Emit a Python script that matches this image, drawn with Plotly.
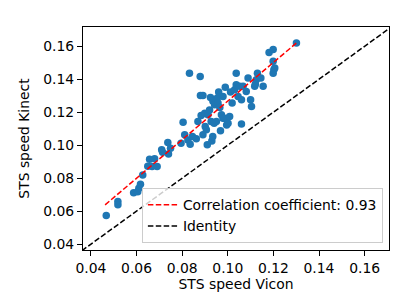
import plotly.graph_objects as go

vicon = [0.0467, 0.0518, 0.0518, 0.0587, 0.0605, 0.0610, 0.0617, 0.0627,
         0.0657, 0.0679, 0.0649, 0.0668, 0.0690, 0.0710, 0.0714, 0.0737,
         0.0740, 0.0749, 0.0795, 0.0804, 0.0832, 0.0879, 0.0880, 0.0891,
         0.0811, 0.0825, 0.0835, 0.0845, 0.0862, 0.0869, 0.0883, 0.0899,
         0.0913, 0.0920, 0.0891, 0.0901, 0.0906, 0.0910, 0.0924, 0.0935,
         0.0942, 0.0954, 0.0957, 0.0927, 0.0940, 0.0950, 0.0960, 0.0979,
         0.0965, 0.0972, 0.0979, 0.0968, 0.0989, 0.0986, 0.0995, 0.1001,
         0.1008, 0.1012, 0.1019, 0.1030, 0.1037, 0.1037, 0.1045, 0.1052,
         0.1060, 0.1060, 0.1067, 0.1081, 0.1089, 0.1100, 0.1104, 0.1118,
         0.1125, 0.1121, 0.1130, 0.1145, 0.1155, 0.1181, 0.1199, 0.1199,
         0.1202, 0.1199, 0.1206, 0.1301, 0.0930, 0.0934]
kinect = [0.0573, 0.0658, 0.0638, 0.0712, 0.0718, 0.0739, 0.0763, 0.0819,
          0.0915, 0.0917, 0.0872, 0.0870, 0.0870, 0.0972, 0.0957, 0.1016,
          0.0947, 0.0982, 0.1012, 0.1139, 0.1437, 0.1417, 0.1302, 0.1302,
          0.1063, 0.1032, 0.1006, 0.1053, 0.1039, 0.1143, 0.1180, 0.1194,
          0.1184, 0.1214, 0.1063, 0.1113, 0.1093, 0.1002, 0.1290, 0.1266,
          0.1245, 0.1286, 0.1256, 0.1143, 0.1133, 0.1143, 0.1322, 0.1296,
          0.1228, 0.1184, 0.1164, 0.1087, 0.1351, 0.1164, 0.1123, 0.1133,
          0.1174, 0.1322, 0.1256, 0.1336, 0.1367, 0.1437, 0.1296, 0.1357,
          0.1276, 0.1129, 0.1357, 0.1326, 0.1407, 0.1276, 0.1235, 0.1357,
          0.1397, 0.1371, 0.1437, 0.1407, 0.1357, 0.1563, 0.1580, 0.1509,
          0.1458, 0.1437, 0.1468, 0.1620, 0.1026, 0.1053]

fit_x = [0.0462, 0.1301]
fit_y = [0.0638, 0.1620]
identity = [0.0360, 0.1720]
fit_label = "Correlation coefficient: 0.93"
identity_label = "Identity"

font = dict(family="DejaVu Sans", size=13.9, color="black")

fig = go.Figure()
fig.add_trace(go.Scatter(x=vicon, y=kinect, mode="markers", showlegend=False,
                         marker=dict(color="#1f77b4", size=7.5, line=dict(width=0))))
fig.add_trace(go.Scatter(x=fit_x, y=fit_y, mode="lines", name=fit_label,
                         line=dict(color="red", width=1.5, dash="5.5px,2.4px")))
fig.add_trace(go.Scatter(x=identity, y=identity, mode="lines", name=identity_label,
                         line=dict(color="black", width=1.5, dash="5.5px,2.4px")))

axis_common = dict(showgrid=False, zeroline=False, showline=True, mirror=True,
                   linecolor="black", linewidth=1, ticks="outside", ticklen=5,
                   tickwidth=1, tickcolor="black", tick0=0.04, dtick=0.02,
                   tickformat=".2f", tickfont=font, automargin=False)
fig.update_xaxes(range=[0.0365, 0.1707], title=dict(text="STS speed Vicon", font=font, standoff=2),
                 **axis_common)
fig.update_yaxes(range=[0.0364, 0.1717], title=dict(text="STS speed Kinect", font=font, standoff=10),
                 **axis_common)

fig.update_layout(width=400, height=300, margin=dict(l=75, r=19, t=19, b=58),
                  paper_bgcolor="white", plot_bgcolor="white", font=font,
                  legend=dict(x=0.98, y=0.03, xanchor="right", yanchor="bottom",
                              bgcolor="rgba(255,255,255,0.8)", bordercolor="#cccccc",
                              borderwidth=1, font=font, tracegroupgap=0))
fig.write_html("out.html")
